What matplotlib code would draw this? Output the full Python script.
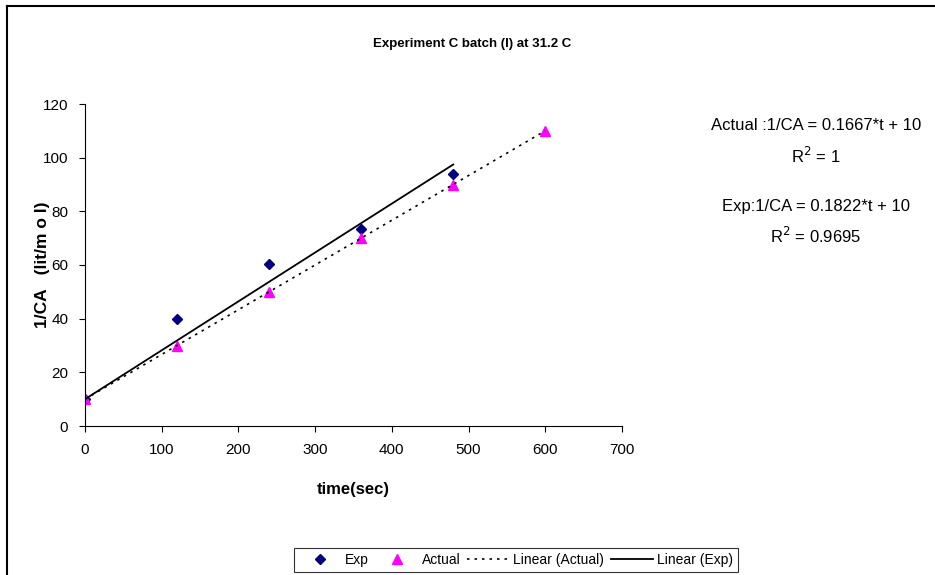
import numpy as np
import matplotlib
matplotlib.use("Agg")
from matplotlib import pyplot as plt
from matplotlib.lines import Line2D

plt.rcParams['font.family'] = ['Liberation Sans', 'DejaVu Sans']

# data
t_exp = [0, 120, 240, 360, 480]
ca_exp = [10, 40, 60.5, 73.5, 94]
t_act = [0, 120, 240, 360, 480, 600]
ca_act = [10, 30, 50, 70, 90, 110]

# trendlines (Excel, intercept fixed at 10)
slope_act, icpt_act = 0.1667, 10
slope_exp, icpt_exp = 0.1822, 10

xticks = [0, 100, 200, 300, 400, 500, 600, 700]
yticks = [0, 20, 40, 60, 80, 100, 120]

fig = plt.figure(figsize=(9.35, 5.75), dpi=100)
ax = fig.add_axes([85/935, 149/575, 537/935, 322/575])

ax.plot(t_exp, ca_exp, linestyle='none', marker='D', color='#000080',
        markersize=5.5, label='Exp')
ax.plot(t_act, ca_act, linestyle='none', marker='^', color='#FF00FF',
        markersize=7, label='Actual')

xa = np.array([t_act[0], t_act[-1]])
ax.plot(xa, slope_act*xa + icpt_act, color='black', lw=1.2,
        linestyle=(0, (1.5, 3)), label='Linear (Actual)')
xe = np.array([t_exp[0], t_exp[-1]])
ax.plot(xe, slope_exp*xe + icpt_exp, color='black', lw=1.3,
        label='Linear (Exp)')

ax.set_xlim(0, 700)
ax.set_ylim(0, 120)
ax.set_xticks(xticks)
ax.set_yticks(yticks)
ax.tick_params(direction='out', length=4, labelsize=11, pad=8)
ax.spines['top'].set_visible(False)
ax.spines['right'].set_visible(False)

ax.set_xlabel('time(sec)', fontsize=12, fontweight='bold', labelpad=18)
ax.set_ylabel('1/CA   (lit/m o l)', fontsize=12.5, fontweight='bold', labelpad=-5)

fig.text(472/935, 1 - 44/575, 'Experiment C batch (I) at 31.2 C',
         ha='center', va='center', fontsize=9.5, fontweight='bold')

fig.text(816/935, 1 - 126/575, 'Actual :1/CA = 0.1667*t + 10',
         ha='center', va='center', fontsize=12)
fig.text(816/935, 1 - 156/575, r'R$^2$ = 1',
         ha='center', va='center', fontsize=12)
fig.text(816/935, 1 - 206/575, 'Exp:1/CA = 0.1822*t + 10',
         ha='center', va='center', fontsize=12)
fig.text(816/935, 1 - 236/575, r'R$^2$ = 0.9695',
         ha='center', va='center', fontsize=12)

leg = fig.legend(loc='center', bbox_to_anchor=(516/935, 15/575), ncol=4,
                 fontsize=10, frameon=True, fancybox=False,
                 handlelength=3.0, columnspacing=0.5, handletextpad=0.3,
                 borderpad=0.35)
leg.get_frame().set_edgecolor('black')
leg.get_frame().set_linewidth(0.8)

# outer chart border
fig.add_artist(Line2D([7/935, 1], [1 - 6/575, 1 - 6/575], color='black', lw=1.5))
fig.add_artist(Line2D([7/935, 7/935], [0, 1 - 6/575], color='black', lw=1.5))

fig.savefig('out.png', dpi=100)
